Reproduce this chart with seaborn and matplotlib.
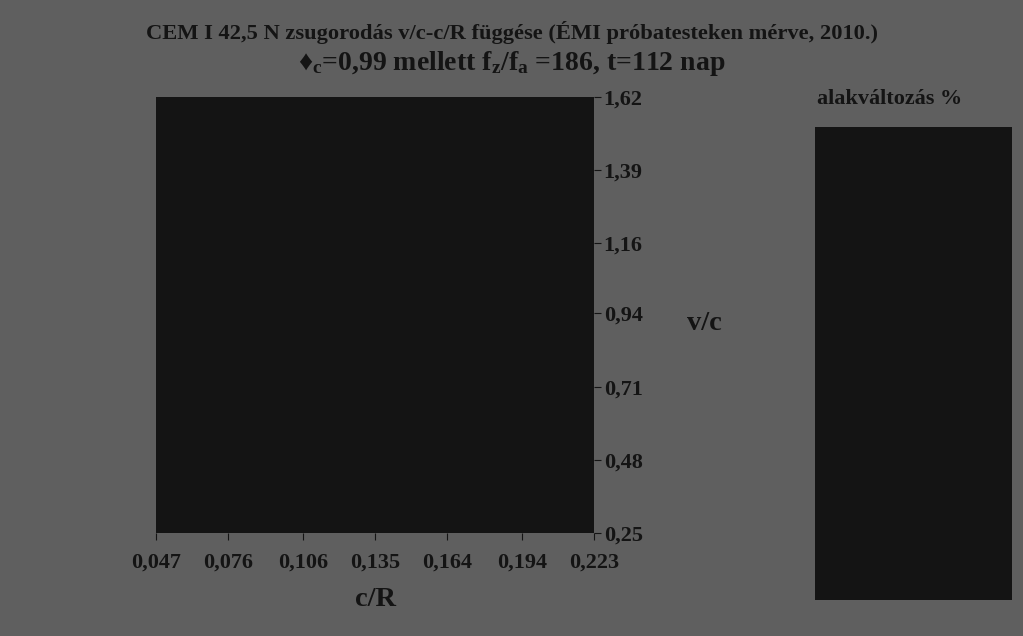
import numpy as np
import matplotlib
matplotlib.use("Agg")
import matplotlib.pyplot as plt
import seaborn as sns

# axis tick values
cr_ticks = [0.047, 0.076, 0.106, 0.135, 0.164, 0.194, 0.223]
vc_ticks = [0.25, 0.48, 0.71, 0.94, 1.16, 1.39, 1.62]
title1 = "CEM I 42,5 N zsugorodás v/c-c/R függése (ÉMI próbatesteken mérve, 2010.)"
title2 = "♦$_\\mathrm{c}$=0,99 mellett f$_\\mathrm{z}$/f$_\\mathrm{a}$ =186, t=112 nap"
legend_title = "alakváltozás %"

BG = "#5f5f5f"
INK = "#141414"

sns.set_theme(style="white")
plt.rcParams["font.family"] = ["Liberation Serif", "DejaVu Serif"]
plt.rcParams["font.weight"] = "bold"
plt.rcParams["mathtext.fontset"] = "custom"
plt.rcParams["mathtext.rm"] = "Liberation Serif:bold"
plt.rcParams["mathtext.it"] = "Liberation Serif:italic:bold"
plt.rcParams["mathtext.bf"] = "Liberation Serif:bold"

fig = plt.figure(figsize=(10.23, 6.36), dpi=100, facecolor=BG)
ax = fig.add_axes([0.1525, 0.1619, 0.4281, 0.6855])
ax.set_facecolor(INK)
for s in ax.spines.values():
    s.set_visible(False)
ax.set_xlim(cr_ticks[0], cr_ticks[-1])
ax.set_ylim(vc_ticks[0], vc_ticks[-1])
ax.set_xticks(cr_ticks)
ax.set_xticklabels([("%.3f" % v).replace(".", ",") for v in cr_ticks])
ax.set_yticks(vc_ticks)
ax.set_yticklabels([("%.2f" % v).replace(".", ",") for v in vc_ticks])
ax.yaxis.tick_right()
ax.tick_params(axis="both", direction="out", length=5, width=0.8, color=INK,
               labelcolor=INK, labelsize=16)
ax.tick_params(axis="x", pad=9, bottom=True)
ax.tick_params(axis="y", pad=2, right=True, left=False)
for lab in ax.get_xticklabels() + ax.get_yticklabels():
    lab.set_fontweight("bold")

fig.text(375 / 1023, 1 - 599 / 636, "c/R", ha="center", va="center",
         fontsize=20.5, fontweight="bold", color=INK)
fig.text(704 / 1023, 1 - 323 / 636, "v/c", ha="center", va="center",
         fontsize=20.5, fontweight="bold", color=INK)

fig.text(512 / 1023, 1 - 32 / 636, title1, ha="center", va="center",
         fontsize=16.2, fontweight="bold", color=INK)
fig.text(512 / 1023, 1 - 63 / 636, title2, ha="center", va="center",
         fontsize=20, fontweight="bold", color=INK)

# legend box (contour bands all rendered black)
lax = fig.add_axes([0.7967, 0.0566, 0.1926, 0.7437])
lax.set_facecolor(INK)
lax.set_xticks([])
lax.set_yticks([])
for s in lax.spines.values():
    s.set_visible(False)
fig.text(817 / 1023, 1 - 99 / 636, legend_title, ha="left", va="center",
         fontsize=16, fontweight="bold", color=INK)

fig.savefig("out.png", dpi=100, facecolor=BG)
